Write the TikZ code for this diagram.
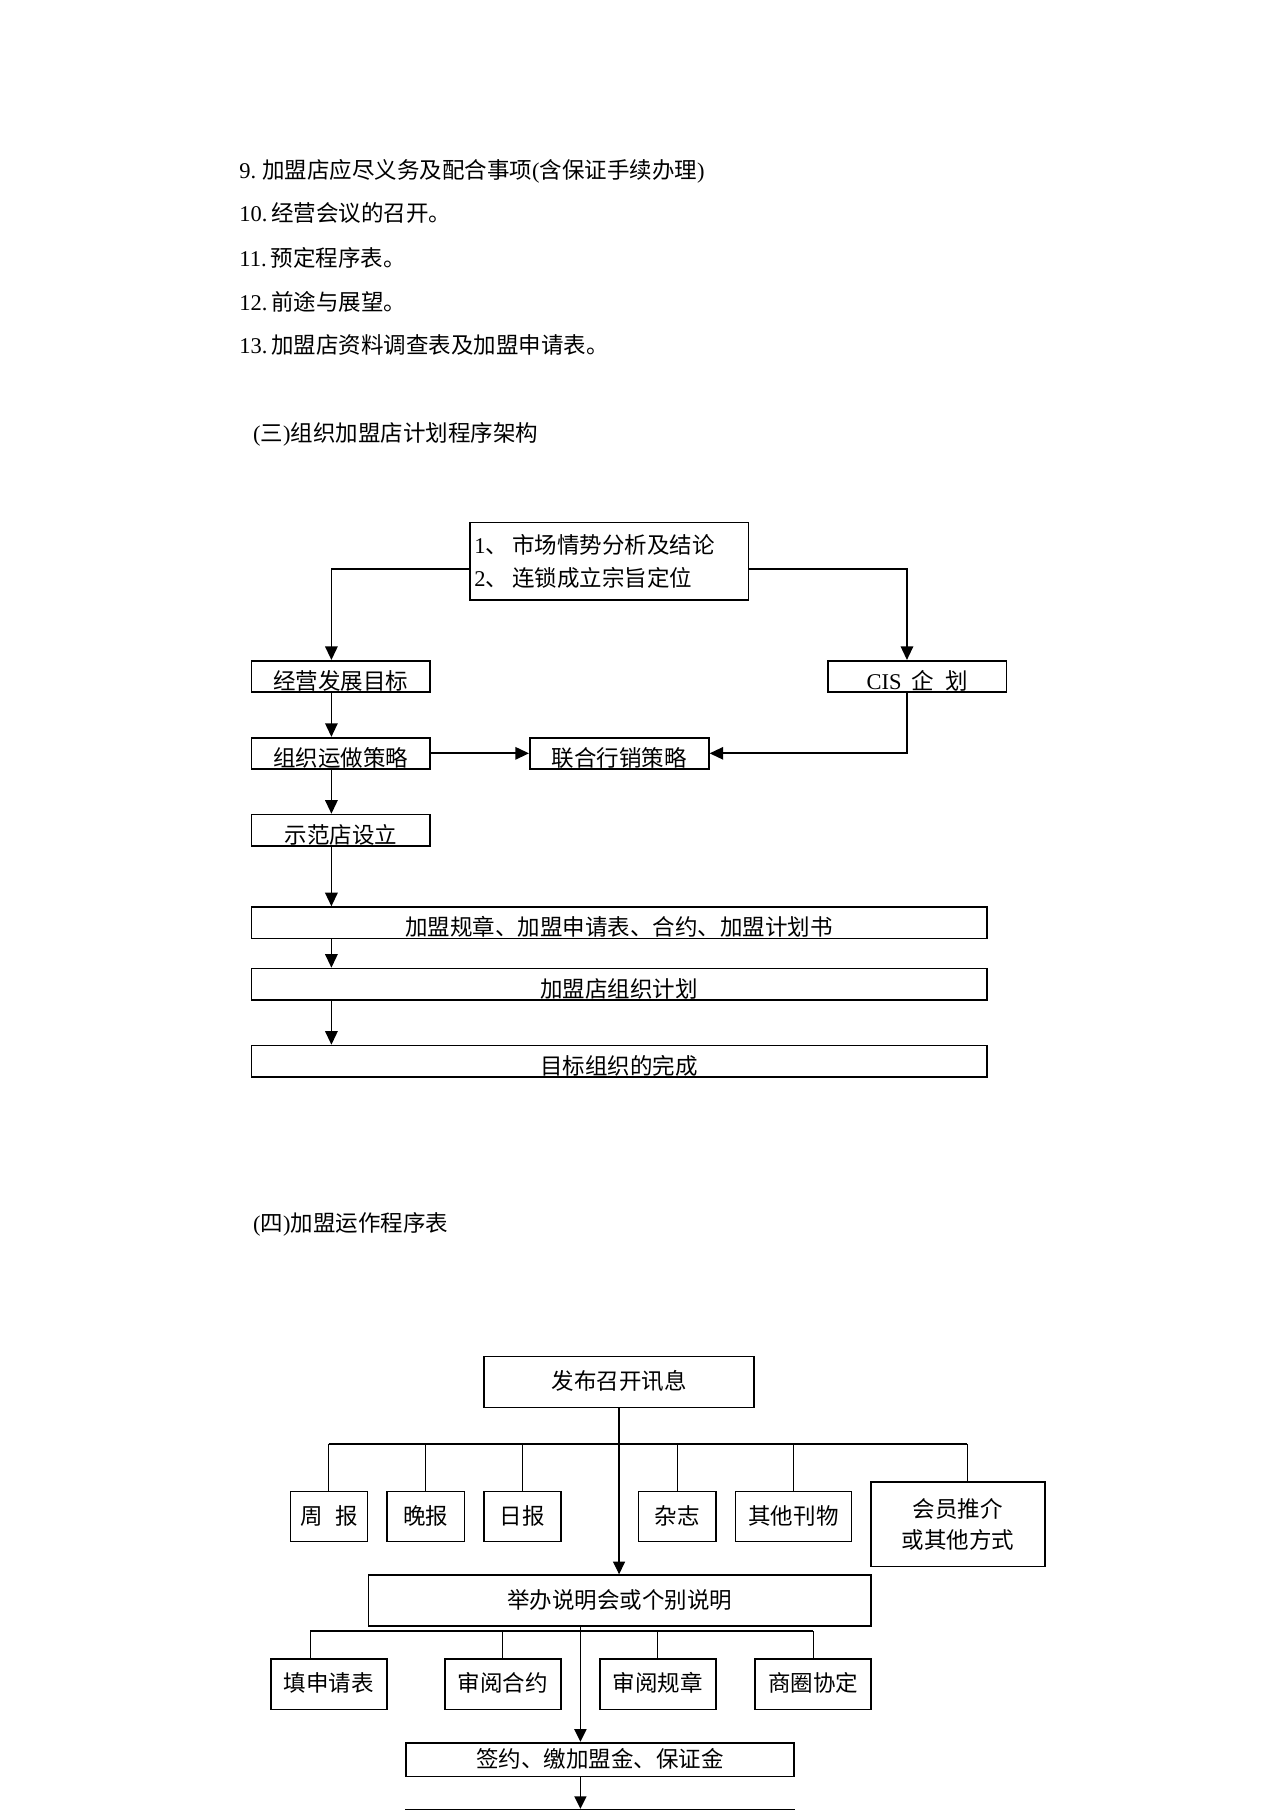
\documentclass[tikz,border=0pt]{standalone}
\usepackage{fontspec}
\setmainfont{Liberation Serif}
\newfontfamily\cjk{Noto Sans CJK SC}
\usetikzlibrary{arrows.meta}
\newcommand\lat[1]{{\rmfamily #1}}
\def\pxu{0.57715pt}
\begin{document}
\begin{tikzpicture}[x=0.57715pt, y=-0.57715pt,
  font=\cjk\fontsize{11.25}{13.5}\selectfont,
  every node/.style={inner sep=0pt},
  txt/.style={anchor=west, text height=0.88em, text depth=0.12em},
  b1/.style={draw, line width=0.85pt, minimum width=155*\pxu, minimum height=27*\pxu, text height=14.3pt, text depth=1.3pt},
  wide/.style={b1, minimum width=637*\pxu},
  topbox/.style={draw, line width=0.85pt, minimum height=67.2*\pxu, text width=134.8pt, inner xsep=2.3pt, align=left, font=\cjk\fontsize{11.25}{16.7}\selectfont},
  b2/.style={draw, line width=0.7pt, text height=0.88em, text depth=0.12em},
  arr/.style={-{Triangle[width=6.2pt,length=6.8pt]}, line width=0.9pt},
  arrb/.style={-{Triangle[width=6pt,length=6.3pt]}, line width=0.9pt},
  arrt/.style={-{Triangle[width=6pt,length=6.3pt]}, line width=0.6pt},
  bus/.style={line width=1pt},
  drop/.style={line width=0.5pt}
]
\useasboundingbox (0,0) rectangle (1109,1568);

% header text
\node[txt] (t9)  at (207,148) {\lat{9.}\hspace{3pt}加盟店应尽义务及配合事项\lat{(}含保证手续办理\lat{)}};
\node[txt] (t10) at (207,185.5) {\lat{10.}\hspace{2pt}经营会议的召开。};
\node[txt] (t11) at (207,224) {\lat{11.}\hspace{2pt}预定程序表。};
\node[txt] (t12) at (207,262) {\lat{12.}\hspace{2pt}前途与展望。};
\node[txt] (t13) at (207,300) {\lat{13.}\hspace{2pt}加盟店资料调查表及加盟申请表。};
\node[txt] (h3)  at (219,376) {\lat{(}三\lat{)}组织加盟店计划程序架构};
\node[txt] (h4)  at (219,1060) {\lat{(}四\lat{)}加盟运作程序表};

% diagram 1
\node[topbox] (top) at (527.75,486.2) {\lat{1}、\hspace{2pt}市场情势分析及结论\\\lat{2}、\hspace{2pt}连锁成立宗旨定位};
\node[b1] (g1) at (295.25,586) {经营发展目标};
\node[b1] (cis) at (794.5,586) {\lat{CIS}\hspace{5pt}企\hspace{5.5pt}划};
\node[b1] (g2) at (295.25,652.6) {组织运做策略};
\node[b1] (lh) at (536.5,652.6) {联合行销策略};
\node[b1] (g3) at (295.25,719.2) {示范店设立};
\node[wide] (w1) at (536.4,799.4) {加盟规章、加盟申请表、合约、加盟计划书};
\node[wide] (w2) at (536.4,852.6) {加盟店组织计划};
\node[wide] (w3) at (536.4,919.3) {目标组织的完成};

\coordinate (vx) at (287.1,0);
\coordinate (rx) at (785.7,0);
\coordinate (ly) at (0,493);
\draw[arr] (top.west |- ly) -| (vx |- g1.north);
\draw[arr] (top.east |- ly) -| (rx |- cis.north);
\draw[arr] (vx |- g1.south) -- (vx |- g2.north);
\draw[arr] (vx |- g2.south) -- (vx |- g3.north);
\draw[arr] (vx |- g3.south) -- (vx |- w1.north);
\draw[arr] (vx |- w1.south) -- (vx |- w2.north);
\draw[arr] (vx |- w2.south) -- (vx |- w3.north);
\draw[arr] (g2.east) -- (lh.west);
\draw[arr] (rx |- cis.south) |- (lh.east);

% diagram 2
\node[b2, minimum width=234*\pxu, minimum height=44*\pxu] (fb) at (536.3,1197.3) {发布召开讯息};
\node[b2, minimum width=66.4*\pxu, minimum height=43.4*\pxu] (zb) at (285,1313.7) {周\hspace{0.55em}报};
\node[b2, minimum width=67.2*\pxu, minimum height=43.4*\pxu] (wb) at (368.8,1313.7) {晚报};
\node[b2, minimum width=66.6*\pxu, minimum height=43.4*\pxu] (rb) at (452.6,1313.7) {日报};
\node[b2, minimum width=67.2*\pxu, minimum height=43.4*\pxu] (zz) at (586.6,1313.7) {杂志};
\node[b2, minimum width=100.4*\pxu, minimum height=43.4*\pxu] (qt) at (687.4,1313.7) {其他刊物};
\node[b2, minimum width=150.6*\pxu, minimum height=73*\pxu, align=center, font=\cjk\fontsize{11.25}{15.9}\selectfont, text height=, text depth=] (hy) at (829.9,1320.5) {会员推介\\或其他方式};
\node[b2, minimum width=435.6*\pxu, minimum height=44.3*\pxu] (jb) at (536.8,1386.5) {举办说明会或个别说明};
\node[b2, minimum width=100.5*\pxu, minimum height=43.6*\pxu] (tb) at (285,1459.1) {填申请表};
\node[b2, minimum width=100.5*\pxu, minimum height=43.6*\pxu] (sh) at (435.65,1459.1) {审阅合约};
\node[b2, minimum width=100.4*\pxu, minimum height=43.6*\pxu] (sg) at (570,1459.1) {审阅规章};
\node[b2, minimum width=100.5*\pxu, minimum height=43.6*\pxu] (sq) at (704.35,1459.1) {商圈协定};
\node[b2, line width=0.9pt, minimum width=336.3*\pxu, minimum height=29.3*\pxu] (qy) at (519.85,1524.35) {签约、缴加盟金、保证金};
\node[draw, line width=0.9pt, minimum width=336.3*\pxu, minimum height=30*\pxu, anchor=north] (nx) at (519.85,1567) {};

\coordinate (busL) at (285,1250.5);
\coordinate (busR) at (838,1250.5);
\draw[bus] (busL) -- (busR);
\draw[drop] (busL) -- (busL |- zb.north);
\draw[drop] (wb.north |- busL) -- (wb.north);
\draw[drop] (rb.north |- busL) -- (rb.north);
\draw[drop] (zz.north |- busL) -- (zz.north);
\draw[drop] (qt.north |- busL) -- (qt.north);
\draw[drop] (busR) -- (busR |- hy.north);
\draw[arrt] (fb.south) -- (fb.south |- jb.north);

\coordinate (b2L) at (268.7,1413);
\coordinate (b2R) at (704.4,1413);
\draw[bus] (b2L) -- (b2R);
\draw[drop] (b2L) -- (b2L |- tb.north);
\draw[drop] (sh.north |- b2L) -- (sh.north);
\draw[drop] (sg.north |- b2L) -- (sg.north);
\draw[drop] (b2R) -- (b2R |- sq.north);
\coordinate (mx) at (502.8,0);
\draw[arrb] (mx |- jb.south) -- (mx |- qy.north);
\draw[arrb] (mx |- qy.south) -- (mx |- nx.north);
\end{tikzpicture}
\end{document}
